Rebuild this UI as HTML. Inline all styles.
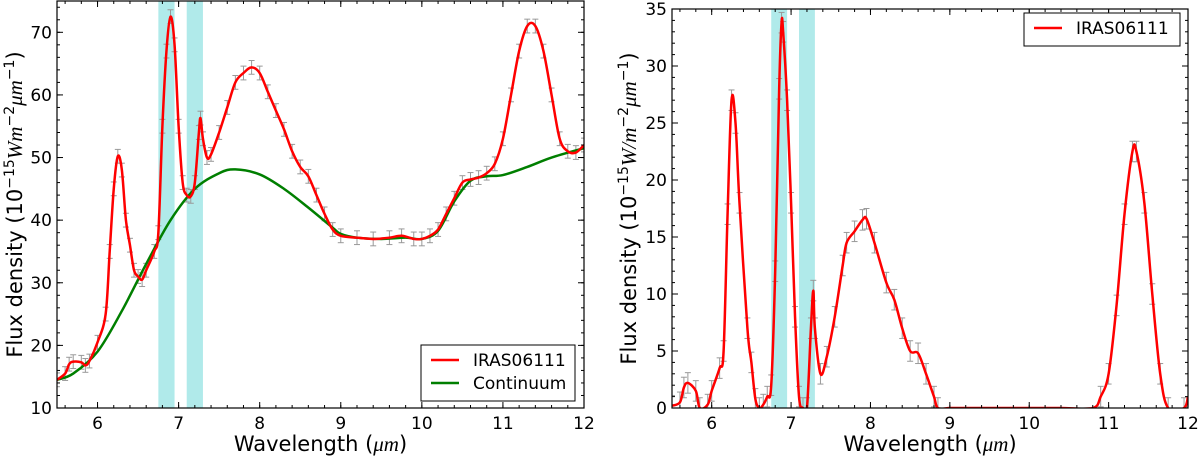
<!DOCTYPE html>
<html><head><meta charset="utf-8">
<style>
html,body{margin:0;padding:0;background:#fff;}
svg{display:block;font-family:"DejaVu Sans","Liberation Sans",sans-serif;}
</style></head>
<body>
<svg id="chart" width="1200" height="457" viewBox="0 0 1200 457"></svg>
<script>
// ---- data ----
const leftX = [5.5,5.6,5.65,5.7,5.8,5.85,5.9,6.0,6.1,6.15,6.2,6.25,6.3,6.35,6.4,6.45,6.5,6.55,6.6,6.7,6.75,6.8,6.85,6.9,6.95,7.0,7.05,7.1,7.15,7.2,7.25,7.27,7.3,7.35,7.4,7.5,7.6,7.7,7.8,7.9,8.0,8.1,8.2,8.3,8.4,8.5,8.6,8.7,8.8,8.9,9.0,9.2,9.4,9.6,9.75,9.9,10.0,10.1,10.2,10.3,10.4,10.5,10.6,10.7,10.8,10.9,11.0,11.1,11.2,11.3,11.4,11.5,11.6,11.7,11.8,11.9,12.0];
const leftFlux = [14.5,15.5,17,17.4,17.3,16.8,17.5,20.5,25,35,45,50.2,48,40,36,32,31,30.5,32,35,38,55,67,72.5,68,55,46,44,43.8,46,54,56.3,53,50,50.5,54,58,62,63.5,64.4,63.5,60.5,57.5,54.5,51,48.5,47,44,41,38.5,37.5,37.2,37,37.2,37.5,37,37,37.5,38.5,41,43.5,46,46.5,46.8,47.5,49,53,60,67,71,71,67,60,53,51,50.8,52];
const contX = [5.5,5.7,6.0,6.3,6.6,6.9,7.2,7.5,7.7,8.0,8.3,8.6,8.9,9.0,9.2,9.5,9.8,10.0,10.2,10.4,10.6,10.8,11.0,11.3,11.6,12.0];
const contFlux = [14.5,15.5,19,25.5,33,40,45,47.5,48.1,47.3,45,42,38.8,37.8,37.2,37,37.2,37,38.3,43,46.3,47,47.2,48.5,50,51.5];
const rightX = [5.5,5.6,5.65,5.7,5.8,5.85,5.95,6.0,6.1,6.15,6.2,6.25,6.3,6.35,6.45,6.5,6.55,6.6,6.65,6.7,6.75,6.8,6.85,6.88,6.9,6.95,7.0,7.05,7.1,7.15,7.2,7.25,7.28,7.3,7.37,7.45,7.55,7.65,7.7,7.8,7.9,7.95,8.05,8.2,8.3,8.4,8.5,8.6,8.7,8.8,8.85,9.0,9.2,9.6,10.0,10.4,10.8,10.9,11.0,11.1,11.2,11.3,11.35,11.45,11.55,11.65,11.75,11.95,12.0];
const rightFlux = [0.2,0.5,1.8,2.2,1.5,0,0.3,1.5,3.5,5,17,27,25,18,7,4,0.8,0,0.3,1,2,12,28,33.8,33,27,18,8,1,0,0,7,10.3,7,3,4.5,8,12.5,14.5,15.5,16.5,16.6,14.5,11,9.5,7,5,4.8,3,1,0,0,0,0,0,0,0,1,3,9,17,22.5,22.5,18,10,3,0,0,1];
const bands = [[6.75,6.95],[7.1,7.3]];
const xTicks = [6,7,8,9,10,11,12];
const leftYTicks = [10,20,30,40,50,60,70];
const rightYTicks = [0,5,10,15,20,25,30,35];

const NS = "http://www.w3.org/2000/svg";
const svg = document.getElementById('chart');
function el(tag, attrs, parent){ const e=document.createElementNS(NS,tag); for(const k in attrs) e.setAttribute(k,attrs[k]); (parent||svg).appendChild(e); return e; }
function smoothPath(pts){
  let d='M'+pts[0][0]+','+pts[0][1];
  for(let i=0;i<pts.length-1;i++){
    const p0=pts[Math.max(0,i-1)],p1=pts[i],p2=pts[i+1],p3=pts[Math.min(pts.length-1,i+2)];
    const c1x=p1[0]+(p2[0]-p0[0])/6, c1y=p1[1]+(p2[1]-p0[1])/6;
    const c2x=p2[0]-(p3[0]-p1[0])/6, c2y=p2[1]-(p3[1]-p1[1])/6;
    d+=' C'+c1x+','+c1y+' '+c2x+','+c2y+' '+p2[0]+','+p2[1];
  }
  return d;
}

function panel(cfg){
  const g = el('g',{});
  
  
  const sx = v => cfg.x0 + (v-5.5)/(12-5.5)*(cfg.x1-cfg.x0);
  const sy = v => cfg.y1 - (v-cfg.ymin)/(cfg.ymax-cfg.ymin)*(cfg.y1-cfg.y0);
  const cid = 'clip-'+cfg.name;
  const defs = el('defs',{},g);
  const cp = el('clipPath',{id:cid},defs);
  el('rect',{x:cfg.x0,y:cfg.y0,width:cfg.x1-cfg.x0,height:cfg.y1-cfg.y0},cp);
  const plot = el('g',{'clip-path':'url(#'+cid+')'},g);
  bands.forEach(b=>{
    const r = el('rect',{x:sx(b[0]),y:cfg.y0,width:sx(b[1])-sx(b[0]),height:cfg.y1-cfg.y0,fill:'#b0eaea'},plot);
    
    
  });
  const eg = el('g',{stroke:'#999','stroke-width':1},plot);
  cfg.series[0].xs.forEach((x,i)=>{
    const y = cfg.series[0].ys[i]; const e = cfg.err;
    if(cfg.skipZero && y===0 && x>8.9 && x<10.85) return;
    const px = sx(x);
    el('line',{x1:px,x2:px,y1:sy(y-e),y2:sy(y+e)},eg);
    el('line',{x1:px-3,x2:px+3,y1:sy(y-e),y2:sy(y-e)},eg);
    el('line',{x1:px-3,x2:px+3,y1:sy(y+e),y2:sy(y+e)},eg);
  });
  cfg.series.slice().reverse().forEach(s=>{
    const pts = s.xs.map((x,i)=>[sx(x), sy(s.ys[i])]);
    const p = el('path',{d:smoothPath(pts),fill:'none',stroke:s.color,'stroke-width':2.5,'stroke-linejoin':'round'},plot);
    
    
  });
  const tg = el('g',{stroke:'#000','stroke-width':1},g);
  for(let v=5.6; v<12; v+=0.2){ const px=sx(v); el('line',{x1:px,x2:px,y1:cfg.y1,y2:cfg.y1-3},tg); el('line',{x1:px,x2:px,y1:cfg.y0,y2:cfg.y0+3},tg); }
  xTicks.forEach(v=>{ const px=sx(v); el('line',{x1:px,x2:px,y1:cfg.y1,y2:cfg.y1-6},tg); el('line',{x1:px,x2:px,y1:cfg.y0,y2:cfg.y0+6},tg);
    const t=el('text',{x:px,y:cfg.y1+21,'font-size':17,'text-anchor':'middle',fill:'#000'},g); t.textContent=v;
      });
  for(let v=cfg.ymin; v<=cfg.ymax+1e-6; v+=cfg.yminor){ const py=sy(v); el('line',{x1:cfg.x0,x2:cfg.x0+3,y1:py,y2:py},tg); el('line',{x1:cfg.x1,x2:cfg.x1-3,y1:py,y2:py},tg); }
  cfg.yticks.forEach(v=>{ const py=sy(v); el('line',{x1:cfg.x0,x2:cfg.x0+6,y1:py,y2:py},tg); el('line',{x1:cfg.x1,x2:cfg.x1-6,y1:py,y2:py},tg);
    const t=el('text',{x:cfg.x0-5,y:py+6,'font-size':17,'text-anchor':'end',fill:'#000'},g); t.textContent=v;
      });
  const fr = el('rect',{x:cfg.x0,y:cfg.y0,width:cfg.x1-cfg.x0,height:cfg.y1-cfg.y0,fill:'none',stroke:'#000','stroke-width':1.2},g);
   
  const xl = el('text',{x:(cfg.x0+cfg.x1)/2,y:451,'font-size':21,'text-anchor':'middle',fill:'#000'},g);
  xl.innerHTML = 'Wavelength (<tspan font-family="Liberation Serif,serif" font-style="italic">μm</tspan>)';
   
  const yl = el('text',{x:0,y:0,'font-size':21,'text-anchor':'middle',fill:'#000',transform:'translate('+cfg.ylx+','+((cfg.y0+cfg.y1)/2)+') rotate(-90)'},g);
  yl.innerHTML = 'Flux density (10<tspan font-size="14" dy="-8">−15</tspan><tspan dy="8" font-family="Liberation Serif,serif" font-style="italic">'+cfg.unit+'</tspan><tspan font-size="14" dy="-8">−2</tspan><tspan dy="8" font-family="Liberation Serif,serif" font-style="italic">μm</tspan><tspan font-size="14" dy="-8">−1</tspan><tspan dy="8">)</tspan>';
   
  const L = cfg.legend;
  const lg = el('g',{},g);
   
  el('rect',{x:L.x,y:L.y,width:L.w,height:L.h,fill:'#fff',stroke:'#000','stroke-width':1},lg);
  cfg.series.forEach((s,i)=>{
    const yy = L.y+15+i*23;
    el('line',{x1:L.x+10,x2:L.x+38,y1:yy,y2:yy,stroke:s.color,'stroke-width':2.5},lg);
    const t=el('text',{x:L.x+52,y:yy+6,'font-size':17,fill:'#000'},lg); t.textContent=s.label;
     
  });
}

panel({name:'left-panel',x0:57,x1:584,y0:1,y1:408,ymin:10,ymax:75,yminor:2,yticks:leftYTicks,err:1.1,ylx:22,unit:'Wm',
  series:[{xs:leftX,ys:leftFlux,color:'#ff0000',label:'IRAS06111',dname:'iras06111-line'},{xs:contX,ys:contFlux,color:'#007f00',label:'Continuum',dname:'continuum-line'}],
  legend:{x:421,y:345,w:154,h:56}});
panel({name:'right-panel',x0:672,x1:1188,y0:9,y1:408,ymin:0,ymax:35,yminor:1,yticks:rightYTicks,err:0.9,ylx:636,unit:'W/m',skipZero:true,
  series:[{xs:rightX,ys:rightFlux,color:'#ff0000',label:'IRAS06111',dname:'iras06111-line'}],
  legend:{x:1024,y:13,w:156,h:33}});
</script>
</body></html>
